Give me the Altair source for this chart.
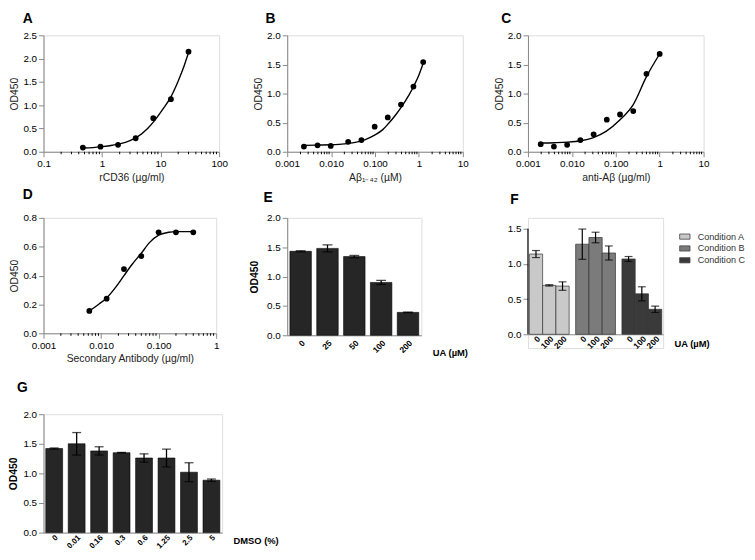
import altair as alt
import pandas as pd

FONT = "Liberation Sans"

# ---------------- data ----------------
# Panel A
A_conc = [0.47, 0.94, 1.875, 3.75, 7.5, 15, 30]
A_od = [0.09, 0.11, 0.15, 0.29, 0.72, 1.13, 2.15]
A_fit_x = [0.47, 0.7, 1, 1.5, 2, 3, 4, 6, 8, 11, 15, 20, 25, 30]
A_fit_y = [0.08, 0.09, 0.11, 0.14, 0.17, 0.24, 0.32, 0.50, 0.68, 0.92, 1.18, 1.52, 1.83, 2.13]
A_majors = [0.1, 1, 10, 100]
A_major_labels = ["0.1", "1", "10", "100"]

# Panel B
B_conc = [0.0024, 0.0049, 0.0098, 0.0244, 0.049, 0.098, 0.195, 0.39, 0.75, 1.25]
B_od = [0.09, 0.11, 0.10, 0.17, 0.20, 0.43, 0.59, 0.81, 1.12, 1.54]
B_fit_x = [0.0024, 0.005, 0.01, 0.02, 0.04, 0.06, 0.1, 0.15, 0.2, 0.3, 0.4, 0.6, 0.8, 1.0, 1.25]
B_fit_y = [0.11, 0.115, 0.12, 0.135, 0.17, 0.21, 0.29, 0.38, 0.48, 0.64, 0.77, 0.98, 1.16, 1.32, 1.52]
B_majors = [0.001, 0.01, 0.1, 1, 10]
B_major_labels = ["0.001", "0.010", "0.100", "1", "10"]

# Panel C
C_conc = [0.00195, 0.0039, 0.0078, 0.0156, 0.03125, 0.0625, 0.125, 0.25, 0.5, 1]
C_od = [0.13, 0.09, 0.12, 0.20, 0.30, 0.55, 0.64, 0.70, 1.34, 1.68]
C_fit_x = [0.002, 0.004, 0.008, 0.016, 0.03, 0.06, 0.125, 0.25, 0.5, 1]
C_fit_y = [0.15, 0.155, 0.165, 0.19, 0.24, 0.35, 0.55, 0.81, 1.29, 1.68]
C_majors = [0.001, 0.01, 0.1, 1, 10]
C_major_labels = ["0.001", "0.010", "0.100", "1", "10"]

# Panel D
D_conc = [0.00625, 0.0125, 0.025, 0.05, 0.1, 0.2, 0.4]
D_od = [0.155, 0.24, 0.445, 0.535, 0.70, 0.70, 0.70]
D_fit_x = [0.00625, 0.009, 0.0125, 0.018, 0.025, 0.035, 0.05, 0.07, 0.1, 0.15, 0.2, 0.4]
D_fit_y = [0.155, 0.20, 0.245, 0.32, 0.40, 0.48, 0.555, 0.63, 0.68, 0.70, 0.705, 0.705]
D_majors = [0.001, 0.01, 0.1, 1]
D_major_labels = ["0.001", "0.010", "0.100", "1"]

# Panel E
E_dose = ["0", "25", "50", "100", "200"]
E_mean = [1.43, 1.48, 1.34, 0.90, 0.39]
E_err = [0.01, 0.06, 0.02, 0.035, 0.005]

# Panel F
F_conditions = ["Condition A", "Condition B", "Condition C"]
F_doses = ["0", "100", "200"]
F_means = [[1.14, 0.695, 0.685], [1.28, 1.375, 1.155], [1.07, 0.575, 0.355]]
F_errs = [[0.05, 0.01, 0.06], [0.215, 0.075, 0.10], [0.035, 0.10, 0.045]]
F_colors = ["#c9c9c9", "#7b7b7b", "#3a3a3a"]

# Panel G
G_dose = ["0", "0.01", "0.16", "0.3", "0.6", "1.25", "2.5", "5"]
G_mean = [1.42, 1.50, 1.38, 1.35, 1.26, 1.26, 1.02, 0.885]
G_err = [0.01, 0.19, 0.07, 0.005, 0.07, 0.15, 0.16, 0.02]

Y_TITLE = "OD450"


# ---------------- helpers ----------------
def panel_title(letter, dx, offset):
    return alt.TitleParams(text=letter, anchor="start", frame="group", dx=dx, offset=offset,
                           font=FONT, fontSize=14, fontWeight="bold", color="black")


def label_expr(majors, labels):
    expr = "''"
    for m, lab in reversed(list(zip(majors, labels))):
        expr = f"datum.value == {m} ? '{lab}' : ({expr})"
    return expr


def minor_ticks(majors):
    vals = []
    for i in range(len(majors) - 1):
        for k in range(2, 10):
            vals.append(round(majors[i] * k, 10))
    return vals


def curve_panel(conc, od, fx, fy, majors, labels, xtitle, ymax, yvals, letter, w, h, ytp, tdx, toff):
    pts = pd.DataFrame({"x": conc, "y": od})
    fit = pd.DataFrame({"x": fx, "y": fy})
    minors = pd.DataFrame({"x": minor_ticks(majors)})
    xsc = alt.Scale(type="log", domain=[majors[0], majors[-1]])
    xax = alt.Axis(values=majors, labelExpr=label_expr(majors, labels), title=xtitle, labelFlush=False,
                   labelOverlap=False, tickSize=5, titlePadding=4, labelPadding=2, grid=False,
                   titleFontWeight="normal", titleFontSize=10.5, titleColor="#222222")
    xenc = alt.X("x:Q", scale=xsc, axis=xax)
    yenc = alt.Y("y:Q", scale=alt.Scale(domain=[0, ymax]),
                 axis=alt.Axis(values=yvals, format=".1f", title=Y_TITLE, titlePadding=ytp, grid=False,
                               titleFontWeight="normal", titleFontSize=10.5, titleColor="#222222"))
    line = alt.Chart(fit).mark_line(color="black", strokeWidth=1.4, interpolate="monotone").encode(x=xenc, y=yenc)
    points = alt.Chart(pts).mark_circle(color="black", size=34, opacity=1).encode(x=xenc, y=yenc)
    mt = alt.Chart(minors).mark_rule(color="black", strokeWidth=1).encode(
        x=alt.X("x:Q", scale=xsc, axis=xax), y=alt.value(h), y2=alt.value(h + 2.5))
    return alt.layer(line, points, mt).properties(width=w, height=h, title=panel_title(letter, tdx, toff))


def bar_panel(doses, means, errs, xtitle, ymax, yvals, letter, w, h, pin, ytp, tdx, toff, title_y, cap,
              lpad, lsize):
    df = pd.DataFrame({"dose": doses, "mean": means, "err": errs})
    xenc = alt.X("dose:N", sort=doses, scale=alt.Scale(paddingInner=pin, paddingOuter=0.1),
                 axis=alt.Axis(title=xtitle, labelAngle=315, ticks=False, labelPadding=lpad,
                               labelFontSize=lsize, labelFontWeight="bold", labelColor="black",
                               labelFont=FONT,
                               titleX=w + 11, titleY=title_y, titleAlign="left", titleBaseline="middle",
                               titleAngle=0, titleFontWeight="bold", titleColor="black", titleFontSize=9.5))
    yax = alt.Axis(values=yvals, format=".1f", titlePadding=ytp, titleFontWeight="bold",
                   titleColor="black", titleFontSize=10.5, grid=False)
    ysc = alt.Scale(domain=[0, ymax])
    base = alt.Chart(df).transform_calculate(lo="datum.mean - datum.err", hi="datum.mean + datum.err")
    bars = base.mark_bar(color="#262626", stroke="#000000", strokeWidth=0.6).encode(
        x=xenc, y=alt.Y("mean:Q", scale=ysc, axis=yax, title=Y_TITLE))
    rule = base.mark_rule(color="black", strokeWidth=1.3).encode(
        x=xenc, y=alt.Y("lo:Q", scale=ysc, axis=yax, title=Y_TITLE), y2="hi:Q")
    cap_hi = base.mark_tick(color="black", thickness=1.3, size=cap).encode(
        x=xenc, y=alt.Y("hi:Q", scale=ysc, axis=yax, title=Y_TITLE))
    cap_lo = base.mark_tick(color="black", thickness=1.3, size=cap).encode(
        x=xenc, y=alt.Y("lo:Q", scale=ysc, axis=yax, title=Y_TITLE))
    return alt.layer(bars, rule, cap_hi, cap_lo).properties(width=w, height=h,
                                                            title=panel_title(letter, tdx, toff))


# ---------------- panels ----------------
A = curve_panel(A_conc, A_od, A_fit_x, A_fit_y, A_majors, A_major_labels, "rCD36 (µg/ml)",
                2.5, [0, 0.5, 1.0, 1.5, 2.0, 2.5], "A", 178, 118, 3, -21, 4)
B = curve_panel(B_conc, B_od, B_fit_x, B_fit_y, B_majors, B_major_labels, "Aβ₁₋₄₂ (µM)",
                2.0, [0, 0.5, 1.0, 1.5, 2.0], "B", 178, 118, 3, -22, 4)
C = curve_panel(C_conc, C_od, C_fit_x, C_fit_y, C_majors, C_major_labels, "anti-Aβ (µg/ml)",
                2.0, [0, 0.5, 1.0, 1.5, 2.0], "C", 178, 118, 3, -27, 4)
D = curve_panel(D_conc, D_od, D_fit_x, D_fit_y, D_majors, D_major_labels, "Secondary Antibody (µg/ml)",
                0.8, [0, 0.2, 0.4, 0.6, 0.8], "D", 175, 117, 3, -21, 11)

E = bar_panel(E_dose, E_mean, E_err, "UA (µM)", 2.0, [0, 0.5, 1.0, 1.5, 2.0], "E",
              136, 119, 0.2, 7, -24, 8, 18, 10, 3, 8.5)
G = bar_panel(G_dose, G_mean, G_err, "DMSO (%)", 2.0, [0, 0.5, 1.0, 1.5, 2.0], "G",
              181, 120, 0.25, 4, -27, 15, 8, 9, 1, 8)

# Panel F (plot box is taller than its 0-1.5 axis so that the row below sits lower)
f_rows = []
for ci, cond in enumerate(F_conditions):
    for di, dose in enumerate(F_doses):
        f_rows.append({"cond": cond, "dose": dose, "mean": F_means[ci][di], "err": F_errs[ci][di]})
F_df = pd.DataFrame(f_rows)
F_W, F_H = 137, 132
F_ZERO_PX = 118          # pixel row of the value 0 inside the plot box
F_DOMAIN = [-0.196, 1.654]
fx = alt.X("cond:N", sort=F_conditions, scale=alt.Scale(paddingInner=0.14, paddingOuter=0.03),
           axis=alt.Axis(labels=False, ticks=False, title="UA (µM)", titleX=F_W + 11, titleY=9,
                         titleAlign="left", titleBaseline="middle", titleAngle=0, offset=F_ZERO_PX - F_H,
                         titleFontWeight="bold", titleColor="black", titleFontSize=9.5))
fxo = alt.XOffset("dose:N", sort=F_doses, scale=alt.Scale(paddingInner=0, paddingOuter=0))
fys = alt.Scale(domain=F_DOMAIN)
fyax = alt.Axis(values=[0, 0.5, 1.0, 1.5], format=".1f", grid=False, domain=False)
fbase = alt.Chart(F_df).transform_calculate(lo="datum.mean - datum.err", hi="datum.mean + datum.err")
f_bars = fbase.mark_bar(stroke="#333333", strokeWidth=0.7).encode(
    x=fx, xOffset=fxo, y=alt.Y("mean:Q", scale=fys, axis=fyax, title=None),
    color=alt.Color("cond:N", sort=F_conditions,
                    scale=alt.Scale(domain=F_conditions, range=F_colors),
                    legend=alt.Legend(title=None, symbolType="M-1,-0.5H1V0.5H-1Z", symbolSize=110,
                                      symbolStrokeColor="#444444", symbolStrokeWidth=0.8,
                                      labelFont=FONT, labelFontSize=9.2, labelColor="#333333",
                                      orient="none", legendX=F_W + 16, legendY=13,
                                      rowPadding=0, labelOffset=7, padding=0)))
f_rule = fbase.mark_rule(color="black", strokeWidth=1.2).encode(
    x=fx, xOffset=fxo, y=alt.Y("lo:Q", scale=fys, axis=fyax, title=None), y2="hi:Q")
f_cap_hi = fbase.mark_tick(color="black", thickness=1.2, size=8).encode(
    x=fx, xOffset=fxo, y=alt.Y("hi:Q", scale=fys, axis=fyax, title=None))
f_cap_lo = fbase.mark_tick(color="black", thickness=1.2, size=8).encode(
    x=fx, xOffset=fxo, y=alt.Y("lo:Q", scale=fys, axis=fyax, title=None))
f_labels = alt.Chart(F_df).mark_text(angle=315, align="right", baseline="middle", font=FONT,
                                     fontSize=8.5, fontWeight="bold", color="black", dx=4).encode(
    x=fx, xOffset=fxo, y=alt.value(F_ZERO_PX + 6), text="dose:N")
f_yline = alt.Chart(pd.DataFrame({"v": [0]})).mark_rule(color="black", strokeWidth=1.2).encode(
    x=alt.value(0), y=alt.Y(datum=0, scale=fys, axis=fyax, title=None), y2=alt.Y2(datum=1.5))
F = alt.layer(f_bars, f_rule, f_cap_hi, f_cap_lo, f_labels, f_yline).properties(
    width=F_W, height=F_H, title=panel_title("F", -18, 11))

chart = alt.concat(
    A, B, C, D, E, F, G, columns=3, spacing={"row": 67, "column": 66},
    bounds="flush", align="each"
).resolve_scale(color="independent").resolve_legend(color="independent").properties(
    padding={"left": 0, "top": 0, "right": 0, "bottom": 0}
).configure_view(stroke=None).configure_axis(
    domainColor="black", domainWidth=1.2, tickColor="black", tickWidth=1.2, tickSize=4,
    labelFont=FONT, labelFontWeight="bold", labelFontSize=8.5, labelColor="black",
    titleFont=FONT, titleFontSize=10, titleFontWeight="normal", titleColor="#222222", grid=False
).configure(background="white")

chart.save("out.html", embed_options={"renderer": "svg", "actions": False})
